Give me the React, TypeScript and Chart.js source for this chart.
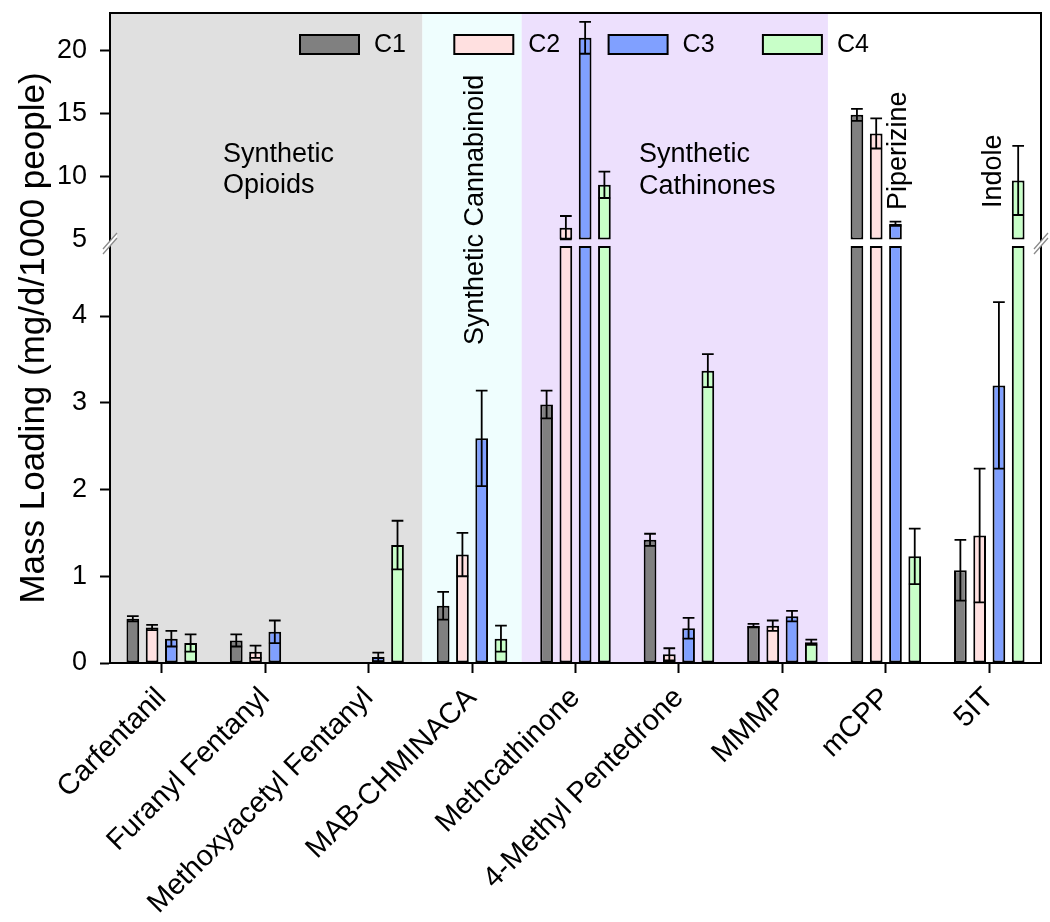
import React, { useEffect, useRef } from 'react';
import { Chart, registerables } from 'chart.js';

Chart.register(...registerables);

const FONT = '"Liberation Sans", Arial, Helvetica, sans-serif';

// ---- data ----
const categories = [
  'Carfentanil',
  'Furanyl Fentanyl',
  'Methoxyacetyl Fentanyl',
  'MAB-CHMINACA',
  'Methcathinone',
  '4-Methyl Pentedrone',
  'MMMP',
  'mCPP',
  '5IT',
];
const seriesNames = ['C1', 'C2', 'C3', 'C4'];

const c1Values = [0.51, 0.26, null, 0.66, 2.98, 1.42, 0.43, 14.92, 1.07];
const c1Errors = [0.03, 0.07, null, 0.16, 0.16, 0.07, 0.02, 0.48, 0.35];
const c2Values = [0.41, 0.13, null, 1.25, 5.94, 0.1, 0.43, 13.44, 1.47];
const c2Errors = [0.03, 0.07, null, 0.25, 0.93, 0.07, 0.06, 1.2, 0.77];
const c3Values = [0.28, 0.36, 0.07, 2.59, 21.05, 0.4, 0.54, 6.25, 3.2];
const c3Errors = [0.09, 0.13, 0.05, 0.55, 1.27, 0.12, 0.06, 0.17, 0.96];
const c4Values = [0.23, null, 1.36, 0.28, 9.35, 3.37, 0.24, 1.23, 9.7];
const c4Errors = [0.1, null, 0.28, 0.15, 1.05, 0.19, 0.03, 0.32, 2.75];

const seriesValues = [c1Values, c2Values, c3Values, c4Values];
const seriesErrors = [c1Errors, c2Errors, c3Errors, c4Errors];

const lowerTicks = [0, 1, 2, 3, 4];
const upperTicks = [5, 10, 15, 20];

// broken axis settings
const BREAK_VALUE = 5;
const LOWER_MAX = 4.807;
const UPPER_MIN = 4.483;
const UPPER_MAX = 23.02;

const seriesColors = ['#808080', '#ffe0e0', '#80a0ff', '#c8ffc8'];

// shaded class regions (in category units)
const regionBounds = [
  [-0.5, 2.52],
  [2.52, 3.48],
  [3.48, 6.44],
];
const regionColors = ['#e0e0e0', '#effefe', '#ede0fd'];

// ---- plugins ----
const backgroundPlugin = {
  id: 'regionBackground',
  beforeDraw(chart: any) {
    const { ctx, chartArea } = chart;
    const x = chart.scales.x;
    ctx.save();
    ctx.fillStyle = '#ffffff';
    ctx.fillRect(0, 0, chart.width, chart.height);
    regionBounds.forEach((b, i) => {
      const x0 = x.getPixelForValue(b[0]);
      const x1 = x.getPixelForValue(b[1]);
      ctx.fillStyle = regionColors[i];
      ctx.fillRect(x0, chartArea.top, x1 - x0, chartArea.bottom - chartArea.top);
    });
    ctx.restore();
  },
};

const errorBarPlugin = {
  id: 'errorBars',
  afterDatasetsDraw(chart: any) {
    const ctx = chart.ctx;
    const low = chart.scales.yLow;
    const high = chart.scales.yHigh;
    ctx.save();
    ctx.strokeStyle = '#000';
    ctx.lineWidth = 1.8;
    seriesValues.forEach((vals, si) => {
      const meta = chart.getDatasetMeta(si);
      vals.forEach((v, ci) => {
        const e = seriesErrors[si][ci];
        if (v == null || e == null) return;
        const bar = meta.data[ci];
        if (!bar) return;
        const scale = v > BREAK_VALUE ? high : low;
        const yTop = scale.getPixelForValue(v + e);
        const yBot = scale.getPixelForValue(Math.max(v - e, 0));
        const half = bar.width / 2 - 0.5;
        ctx.beginPath();
        ctx.moveTo(bar.x, yTop);
        ctx.lineTo(bar.x, yBot);
        ctx.moveTo(bar.x - half, yTop);
        ctx.lineTo(bar.x + half, yTop);
        ctx.moveTo(bar.x - half, yBot);
        ctx.lineTo(bar.x + half, yBot);
        ctx.stroke();
      });
    });
    ctx.restore();
  },
};

function rotatedText(ctx: CanvasRenderingContext2D, text: string, x: number, y: number) {
  ctx.save();
  ctx.translate(x, y);
  ctx.rotate(-Math.PI / 2);
  ctx.textAlign = 'left';
  ctx.textBaseline = 'alphabetic';
  ctx.fillText(text, 0, 0);
  ctx.restore();
}

const decorPlugin = {
  id: 'decor',
  afterDraw(chart: any) {
    const { ctx, chartArea } = chart;
    ctx.save();

    // frame top + right
    ctx.strokeStyle = '#000';
    ctx.lineWidth = 2;
    ctx.beginPath();
    ctx.moveTo(chartArea.left, chartArea.top);
    ctx.lineTo(chartArea.right, chartArea.top);
    ctx.lineTo(chartArea.right, chartArea.bottom);
    ctx.stroke();

    // break marks
    const yb = chart.scales.yLow.top - 3;
    [chartArea.left, chartArea.right].forEach((bx: number) => {
      ctx.fillStyle = '#ffffff';
      ctx.beginPath();
      ctx.moveTo(bx - 7, yb + 6);
      ctx.lineTo(bx + 7, yb - 10);
      ctx.lineTo(bx + 7, yb - 5);
      ctx.lineTo(bx - 7, yb + 11);
      ctx.closePath();
      ctx.fill();
      ctx.strokeStyle = '#8a8a8a';
      ctx.lineWidth = 1.3;
      ctx.beginPath();
      ctx.moveTo(bx - 7, yb + 6);
      ctx.lineTo(bx + 7, yb - 10);
      ctx.moveTo(bx - 7, yb + 11);
      ctx.lineTo(bx + 7, yb - 5);
      ctx.stroke();
    });

    // legend
    ctx.font = `25px ${FONT}`;
    ctx.textBaseline = 'middle';
    ctx.textAlign = 'left';
    seriesNames.forEach((name, i) => {
      const lx = 300 + i * 154.3;
      const ly = 35;
      ctx.fillStyle = seriesColors[i];
      ctx.fillRect(lx, ly, 59, 19);
      ctx.strokeStyle = '#000';
      ctx.lineWidth = 2;
      ctx.strokeRect(lx, ly, 59, 19);
      ctx.fillStyle = '#000';
      ctx.fillText(name, lx + 74, ly + 10);
    });

    // annotations
    ctx.fillStyle = '#000';
    ctx.font = `27px ${FONT}`;
    ctx.textBaseline = 'alphabetic';
    ctx.fillText('Synthetic', 223, 162);
    ctx.fillText('Opioids', 223, 193);
    ctx.fillText('Synthetic', 639, 162);
    ctx.fillText('Cathinones', 639, 194);
    rotatedText(ctx, 'Synthetic Cannabinoid', 483, 345);
    rotatedText(ctx, 'Piperizine', 906, 210);
    rotatedText(ctx, 'Indole', 1001, 208);

    // y axis title
    ctx.font = `35px ${FONT}`;
    ctx.save();
    ctx.translate(44, (chartArea.top + chartArea.bottom) / 2);
    ctx.rotate(-Math.PI / 2);
    ctx.textAlign = 'center';
    ctx.fillText('Mass Loading (mg/d/1000 people)', 0, 0);
    ctx.restore();

    ctx.restore();
  },
};

export default function App() {
  const ref = useRef<HTMLCanvasElement>(null);

  useEffect(() => {
    if (!ref.current) return;
    Chart.defaults.font.family = FONT;
    Chart.defaults.color = '#000';

    const lowerSets = seriesValues.map((vals, i) => ({
      label: seriesNames[i],
      data: vals.map((v) => (v == null ? null : Math.min(v, LOWER_MAX))),
      backgroundColor: seriesColors[i],
      borderColor: '#000',
      borderWidth: 2,
      borderSkipped: false,
      yAxisID: 'yLow',
      stack: seriesNames[i],
      categoryPercentage: 0.745,
      barPercentage: 0.66,
    }));
    const upperSets = seriesValues.map((vals, i) => ({
      label: seriesNames[i] + ' (upper)',
      data: vals.map((v) => (v != null && v > BREAK_VALUE ? [BREAK_VALUE, v] : null)),
      backgroundColor: seriesColors[i],
      borderColor: '#000',
      borderWidth: 2,
      borderSkipped: false,
      yAxisID: 'yHigh',
      stack: seriesNames[i],
      categoryPercentage: 0.745,
      barPercentage: 0.66,
    }));

    const tickFontY = { size: 27, family: FONT };

    const fitY = (s: any) => {
      s.width = 110;
      s.paddingTop = 0;
      s.paddingBottom = 0;
    };

    const chart = new Chart(ref.current, {
      type: 'bar',
      data: { labels: categories, datasets: [...lowerSets, ...upperSets] as any },
      plugins: [backgroundPlugin, errorBarPlugin, decorPlugin],
      options: {
        responsive: false,
        animation: false,
        layout: { padding: { top: 13, right: 9, left: 0, bottom: 0 } },
        plugins: {
          legend: { display: false },
          title: { display: false },
          tooltip: { enabled: false },
        },
        scales: {
          x: {
            type: 'category',
            offset: true,
            grid: {
              display: true,
              drawOnChartArea: false,
              drawTicks: true,
              tickLength: 10,
              tickWidth: 2,
              tickColor: '#000',
              offset: false,
            },
            border: { display: true, color: '#000', width: 2 },
            ticks: {
              font: { size: 29, family: FONT },
              color: '#000',
              minRotation: 45,
              maxRotation: 45,
              autoSkip: false,
              padding: 8,
            },
            afterFit: (s: any) => {
              s.height = 259;
              s.paddingLeft = 0;
              s.paddingRight = 0;
            },
          },
          yLow: {
            type: 'linear',
            position: 'left',
            stack: 'y',
            stackWeight: 417,
            stacked: false,
            min: 0,
            max: LOWER_MAX,
            grid: {
              display: true,
              drawOnChartArea: false,
              drawTicks: true,
              tickLength: 10,
              tickWidth: 2,
              tickColor: '#000',
            },
            border: { display: true, color: '#000', width: 2 },
            ticks: { font: tickFontY, color: '#000', padding: 13 },
            afterBuildTicks: (s: any) => {
              s.ticks = lowerTicks.map((v) => ({ value: v }));
            },
            afterFit: fitY,
          },
          yHigh: {
            type: 'linear',
            position: 'left',
            stack: 'y',
            stackWeight: 233,
            stacked: false,
            min: UPPER_MIN,
            max: UPPER_MAX,
            grid: {
              display: true,
              drawOnChartArea: false,
              drawTicks: true,
              tickLength: 10,
              tickWidth: 2,
              tickColor: (c: any) => (c.tick && c.tick.value === BREAK_VALUE ? 'rgba(0,0,0,0)' : '#000'),
            },
            border: { display: true, color: '#000', width: 2 },
            ticks: { font: tickFontY, color: '#000', padding: 13 },
            afterBuildTicks: (s: any) => {
              s.ticks = upperTicks.map((v) => ({ value: v }));
            },
            afterFit: fitY,
          },
        } as any,
      },
    });

    return () => chart.destroy();
  }, []);

  return (
    <div style={{ position: 'absolute', left: 0, top: 0, width: 1050, height: 922, background: '#fff' }}>
      <canvas ref={ref} width={1050} height={922} style={{ display: 'block', width: 1050, height: 922 }} />
    </div>
  );
}
